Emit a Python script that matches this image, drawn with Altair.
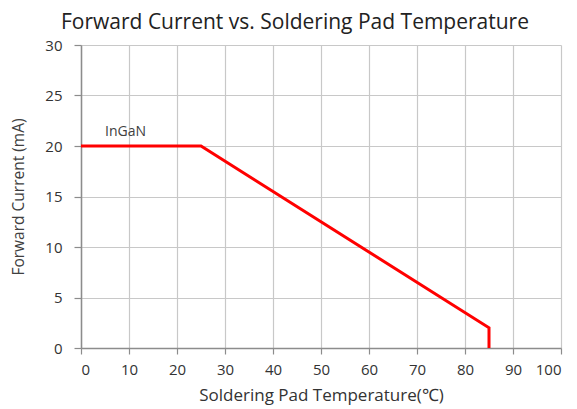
import altair as alt
import pandas as pd

temps = [0, 25, 85, 85]
current = [20, 20, 2, 0]
label_text = ["InGaN"]
label_x = [5]
label_y = [21.4]

df = pd.DataFrame({"t": temps, "i": current, "o": list(range(len(temps)))})
lab = pd.DataFrame({"t": label_x, "i": label_y, "txt": label_text})

font = "Open Sans"
xscale = alt.Scale(domain=[0, 100], nice=False)
yscale = alt.Scale(domain=[0, 30], nice=False)

line = alt.Chart(df).mark_line(color="#ff0000", strokeWidth=3, clip=False).encode(
    x=alt.X("t:Q", scale=xscale,
            axis=alt.Axis(title="Soldering Pad Temperature(℃)", values=list(range(0, 101, 10)),
                          tickSize=6, labelPadding=8, titlePadding=10, titleFontSize=17,
                          titleColor="#333333")),
    y=alt.Y("i:Q", scale=yscale,
            axis=alt.Axis(title="Forward Current (mA)", values=list(range(0, 31, 5)),
                          tickSize=7, labelPadding=12, titlePadding=18)),
    order="o:O",
)

text = alt.Chart(lab).mark_text(align="left", baseline="middle", font=font, fontSize=14,
                               color="#404040").encode(
    x=alt.X("t:Q", scale=xscale), y=alt.Y("i:Q", scale=yscale), text="txt:N")

chart = (line + text).properties(
    width=480, height=303,
    title=alt.TitleParams("Forward Current  vs. Soldering Pad Temperature", font=font,
                          fontSize=21, fontWeight="normal", color="#222222", anchor="middle",
                          offset=5, dx=-26),
    autosize=alt.AutoSizeParams(type="none"),
    padding={"left": 73, "top": 37, "right": 8, "bottom": 60},
).configure_axis(
    labelFont=font, titleFont=font, labelFontSize=15, titleFontSize=15.5,
    labelColor="#333333", titleColor="#404040", titleFontWeight="normal",
    gridColor="#c8c8c8", gridWidth=1.2, domainColor="#8c8c8c", domainWidth=1.5,
    tickColor="#8c8c8c", tickWidth=1.2,
).configure_view(stroke=None)

chart.save("out.html", embed_options={"renderer": "svg", "actions": False})
